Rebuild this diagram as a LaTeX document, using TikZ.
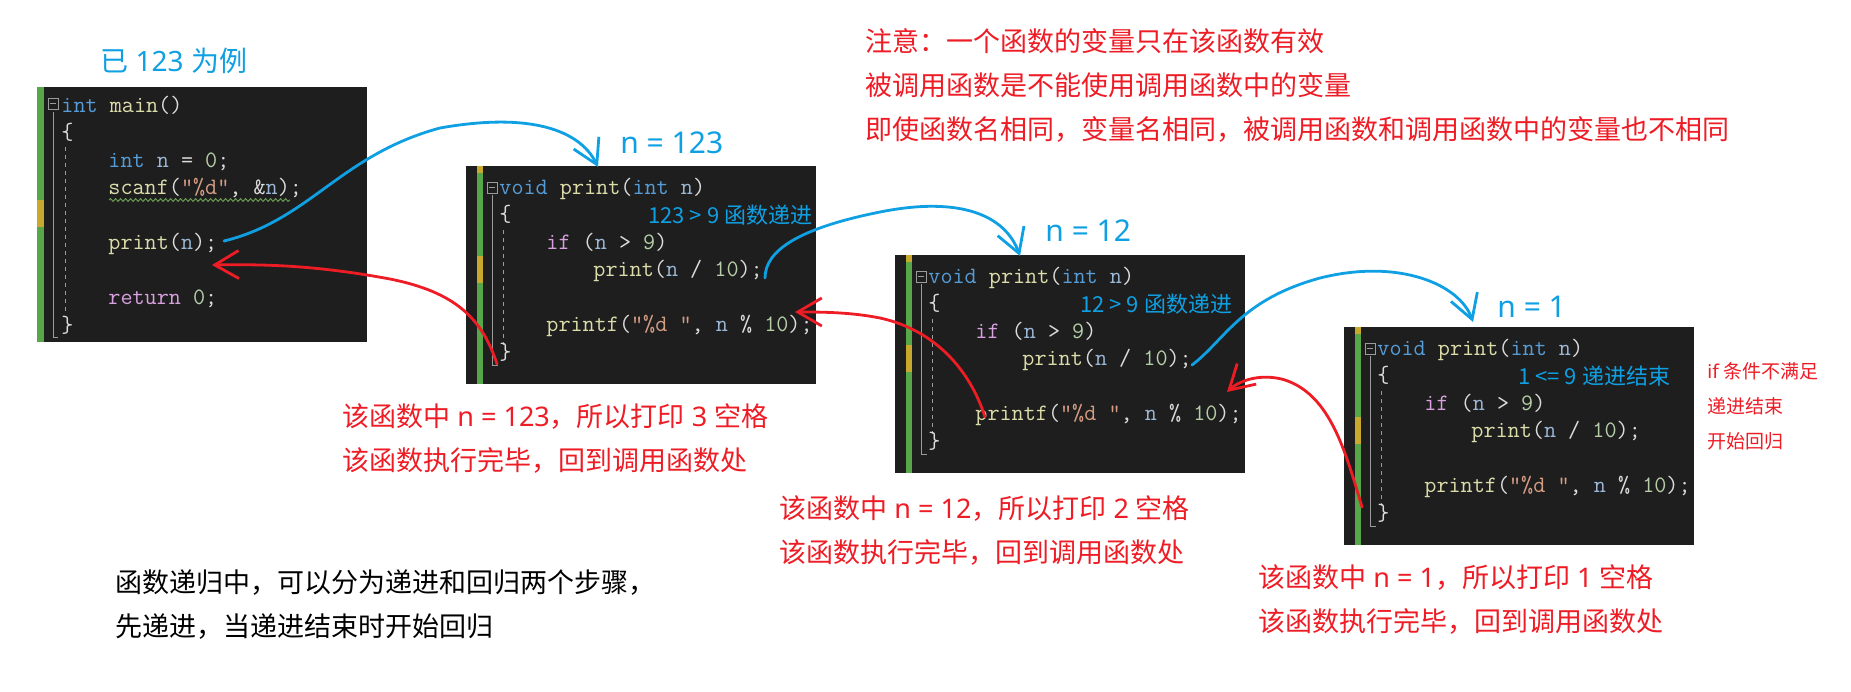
\documentclass[tikz,border=0pt]{standalone}
\usepackage{fontspec}
\newfontfamily\cjk{Noto Sans CJK SC}
\newfontfamily\latfont{Noto Sans}
\usetikzlibrary{arrows.meta,decorations.pathmorphing}

\definecolor{codebg}{HTML}{1E1E1E}
\definecolor{bargreen}{HTML}{57A64A}
\definecolor{baryellow}{HTML}{C9A92D}
\definecolor{guidegray}{HTML}{9B9B9B}
\definecolor{kwcol}{HTML}{569CD6}
\definecolor{fncol}{HTML}{DCDCAA}
\definecolor{varcol}{HTML}{9CB8D6}
\definecolor{numcol}{HTML}{B5CEA8}
\definecolor{ctlcol}{HTML}{D8A0DF}
\definecolor{strcol}{HTML}{D69D85}
\definecolor{puncol}{HTML}{DCDCDC}
\definecolor{noteblue}{HTML}{0FA0E3}
\definecolor{notered}{HTML}{EE1C25}
\definecolor{squigcol}{HTML}{6A9955}

\newcommand\ckw[1]{\textcolor{kwcol}{#1}}
\newcommand\cfn[1]{\textcolor{fncol}{#1}}
\newcommand\cvar[1]{\textcolor{varcol}{#1}}
\newcommand\cnum[1]{\textcolor{numcol}{#1}}
\newcommand\cctl[1]{\textcolor{ctlcol}{#1}}
\newcommand\cstr[1]{\textcolor{strcol}{#1}}
\newcommand\lat[1]{{\latfont #1}}

\tikzset{
  codebox/.style={fill=codebg, draw=none, anchor=north west, inner sep=0pt},
  codeline/.style={anchor=base west, inner sep=0pt, text=puncol,
    font=\ttfamily\fontsize{11.75}{13}\selectfont},
  remark/.style={anchor=west, inner sep=0pt, text=noteblue,
    font=\cjk\fontsize{11}{13}\selectfont},
  bluelabel/.style={anchor=west, inner sep=0pt, text=noteblue,
    font=\cjk\fontsize{14}{16}\selectfont},
  nlabel/.style={bluelabel, font=\latfont\fontsize{15}{17}\selectfont},
  rednote/.style={anchor=west, inner sep=0pt, align=left, text=notered,
    font=\cjk\fontsize{13.5}{22}\selectfont},
  blacknote/.style={rednote, text=black},
  smallnote/.style={rednote, font=\cjk\fontsize{9.5}{17.5}\selectfont},
  callarrow/.style={draw=noteblue, line width=1.4pt, line cap=round,
    -{Straight Barb[length=12pt,width=14pt]}},
  backarrow/.style={callarrow, draw=notered},
  guide/.style={draw=guidegray, line width=0.5pt},
}

\begin{document}
\begin{tikzpicture}[x=0.5pt, y=-0.5pt]
  \fill[white] (0,0) rectangle (1851,691);
  \useasboundingbox (0,0) rectangle (1851,691);

  % main()
  \node[codebox, minimum width=165pt, minimum height=127.5pt] (mainbox) at (37,87) {};
  \fill[bargreen] (37,87) rectangle (44,342);
  \fill[baryellow] (37,200) rectangle (44,227);
  \draw[guide] (48,98) rectangle (58,109) (50,103.5) -- (56,103.5);
  \draw[guide] (53,112) -- (53,337) -- (58,337);
  \draw[guide, dash pattern=on 2pt off 2pt] (65,147) -- (65,313);
  \node[codeline] (m0) at (61,112) {\ckw{int} \cfn{main}()};
  \node[codeline] (m1) at (61,139.5) {\{};
  \node[codeline] (m2) at (108,167) {\ckw{int} \cvar{n} = \cnum{0};};
  \node[codeline] (m3) at (108,194.5) {\cfn{scanf}(\cstr{"\%d"}, \&\cvar{n});};
  \node[codeline] (m5) at (108,249.5) {\cfn{print}(\cvar{n});};
  \node[codeline] (m7) at (108,304.5) {\cctl{return} \cnum{0};};
  \node[codeline] (m8) at (61,332) {\}};
  \draw[squigcol, line width=0.5pt, decorate,
    decoration={snake, amplitude=0.7pt, segment length=2.5pt}] (109,200) -- (290,200);

  % print(int n)
  \foreach \X/\Y/\nm/\cx/\ctext in {466/166/pa/648/{123 > 9 函数递进},
      895/255/pb/1080/{12 > 9 函数递进}, 1344/327/pc/1518/{1 <= 9 递进结束}} {
    \node[codebox, minimum width=175pt, minimum height=109pt] (\nm) at (\X,\Y) {};
    \fill[bargreen] ({\X+11},\Y) rectangle ({\X+17},{\Y+218});
    \fill[baryellow] ({\X+11},\Y) rectangle ({\X+17},{\Y+7});
    \fill[baryellow] ({\X+11},{\Y+90}) rectangle ({\X+17},{\Y+117});
    \draw[guide] ({\X+21},{\Y+16}) rectangle ({\X+31},{\Y+27})
      ({\X+23},{\Y+21.5}) -- ({\X+29},{\Y+21.5});
    \draw[guide] ({\X+26},{\Y+29}) -- ({\X+26},{\Y+199}) -- ({\X+32},{\Y+199});
    \draw[guide, dash pattern=on 2pt off 2pt] ({\X+37},{\Y+64}) -- ({\X+37},{\Y+179});
    \node[codeline] (\nm-0) at ({\X+33},{\Y+28}) {\ckw{void} \cfn{print}(\ckw{int} \cvar{n})};
    \node[codeline] (\nm-1) at ({\X+33},{\Y+55.5}) {\{};
    \node[codeline] (\nm-2) at ({\X+80},{\Y+83}) {\cctl{if} (\cvar{n} > \cnum{9})};
    \node[codeline] (\nm-3) at ({\X+127},{\Y+110.5}) {\cfn{print}(\cvar{n} / \cnum{10});};
    \node[codeline] (\nm-5) at ({\X+80},{\Y+165.5}) {\cfn{printf}(\cstr{"\%d "}, \cvar{n} \% \cnum{10});};
    \node[codeline] (\nm-6) at ({\X+33},{\Y+193}) {\}};
    \node[remark] (\nm-c) at (\cx,{\Y+49.5}) {\ctext};
  }

  % labels
  \node[bluelabel] (example) at (100,61) {已\lat{ 123 }为例};
  \node[nlabel] (na) at (620,143) {n = 123};
  \node[nlabel] (nb) at (1045,231) {n = 12};
  \node[nlabel] (nc) at (1497,307) {n = 1};

  \node[rednote] (scope) at (865,85) {注意：一个函数的变量只在该函数有效\\
    被调用函数是不能使用调用函数中的变量\\
    即使函数名相同，变量名相同，被调用函数和调用函数中的变量也不相同};
  \node[rednote] (reta) at (342,439) {该函数中\lat{ n = 123}，所以打印\lat{ 3 }空格\\该函数执行完毕，回到调用函数处};
  \node[rednote] (retb) at (779,531) {该函数中\lat{ n = 12}，所以打印\lat{ 2 }空格\\该函数执行完毕，回到调用函数处};
  \node[rednote] (retc) at (1258,600) {该函数中\lat{ n = 1}，所以打印\lat{ 1 }空格\\该函数执行完毕，回到调用函数处};
  \node[smallnote] (stop) at (1707,406) {\lat{if }条件不满足\\递进结束\\开始回归};
  \node[blacknote] (summary) at (115,605) {函数递归中，可以分为递进和回归两个步骤，\\先递进，当递进结束时开始回归};

  % arrow ends
  \coordinate (callas) at (224,241);
  \coordinate (callae) at (598,167);
  \coordinate (callbs) at (765,278);
  \coordinate (callbe) at (1020,256);
  \coordinate (callcs) at (1192,365);
  \coordinate (callce) at (1473,322);
  \coordinate (backas) at (497,364);
  \coordinate (backae) at (212,265);
  \coordinate (backbs) at (985,417);
  \coordinate (backbe) at (795,312);
  \coordinate (backcs) at (1362,507);
  \coordinate (backce) at (1227,392);

  \draw[callarrow] (callas) .. controls (310,220) and (340,155) .. (440,128)
    .. controls (530,112) and (580,130) .. (callae);
  \draw[callarrow] (callbs) .. controls (765,250) and (800,228) .. (880,212)
    .. controls (960,196) and (1005,215) .. (callbe);
  \draw[callarrow] (callcs) .. controls (1225,340) and (1240,300) .. (1320,278)
    .. controls (1400,258) and (1460,285) .. (callce);
  \draw[backarrow] (backas) .. controls (482,318) and (455,292) .. (390,279)
    .. controls (320,266) and (270,264) .. (backae);
  \draw[backarrow] (backbs) .. controls (970,370) and (935,330) .. (880,318)
    .. controls (850,312) and (820,312) .. (backbe);
  \draw[backarrow] (backcs) .. controls (1345,450) and (1330,395) .. (1285,380)
    .. controls (1262,373) and (1240,380) .. (backce);
\end{tikzpicture}
\end{document}
